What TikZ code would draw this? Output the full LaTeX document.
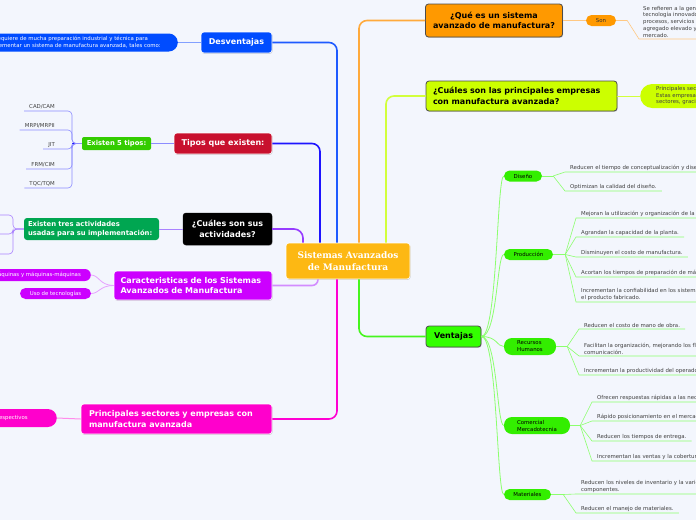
\documentclass[tikz,border=0pt]{standalone}
\usepackage{fontspec}
\setmainfont{DejaVu Sans}
\newfontfamily\censerif{DejaVu Serif}
\usetikzlibrary{shapes, positioning, shadows}

\definecolor{bgcol}{RGB}{243,246,253}
\definecolor{cencol}{RGB}{253,184,19}
\definecolor{quecol}{RGB}{255,153,0}
\definecolor{limecol}{RGB}{204,255,0}
\definecolor{vencol}{RGB}{51,255,0}
\definecolor{pillgreen}{RGB}{51,238,0}
\definecolor{descol}{RGB}{0,76,255}
\definecolor{tipcol}{RGB}{200,16,46}
\definecolor{tipgreen}{RGB}{51,204,0}
\definecolor{actgreen}{RGB}{0,166,81}
\definecolor{carcol}{RGB}{204,0,255}
\definecolor{pricol}{RGB}{255,0,204}
\definecolor{leaftext}{RGB}{64,64,64}
\definecolor{qline}{RGB}{255,170,60}
\definecolor{sonline}{RGB}{255,200,130}
\definecolor{cline}{RGB}{210,255,60}
\definecolor{vline}{RGB}{70,245,30}
\definecolor{vtwig}{RGB}{140,255,110}
\definecolor{dline}{RGB}{30,90,255}
\definecolor{destwig}{RGB}{130,160,255}
\definecolor{tline}{RGB}{30,20,255}
\definecolor{tiptwig}{RGB}{140,140,255}
\definecolor{aline}{RGB}{150,60,255}
\definecolor{acttwig}{RGB}{170,130,255}
\definecolor{kline}{RGB}{210,140,255}
\definecolor{cartwig}{RGB}{230,160,255}
\definecolor{pline}{RGB}{255,0,210}
\definecolor{pritwig}{RGB}{255,140,235}

\tikzstyle{mainbox} = [rectangle, rounded corners=3pt, inner sep=0pt, font=\fontsize{8}{10.5}\selectfont\bfseries, drop shadow={shadow xshift=.6pt, shadow yshift=-.9pt, opacity=.35}]
\tikzstyle{darkedge} = [draw=black!70, line width=.8pt]
\tikzstyle{lightedge} = [draw=white, line width=.6pt]
\tikzstyle{pill} = [rectangle, rounded corners=5.5pt, inner sep=0pt, minimum height=11pt, font=\fontsize{5.4}{7}\selectfont]
\tikzstyle{leaf} = [anchor=south west, inner xsep=5pt, inner ysep=1.5pt, align=left, text=leaftext, font=\fontsize{5.4}{7}\selectfont]
\tikzstyle{trunk} = [line width=1.6pt, rounded corners=8pt]
\tikzstyle{twig} = [line width=.6pt]

\begin{document}
\begin{tikzpicture}[x=1pt, y=-1pt]
  \useasboundingbox (0,0) rectangle (696,520);
  \fill[bgcol] (0,0) rectangle (696,520);
  \clip (0,0) rectangle (696,520);

  \node[mainbox, lightedge, fill=cencol, text=white, minimum width=124pt, minimum height=36pt, align=center, font=\censerif\fontsize{9}{12}\selectfont\bfseries] (cen) at (348,261) {Sistemas Avanzados\\de Manufactura};

  % derecha
  \node[mainbox, darkedge, fill=quecol, minimum width=137pt, minimum height=33pt, align=center] (que) at (494,20.5) {¿Qué es un sistema\\avanzado de manufactura?};
  \node[pill, fill=quecol, text=black!80, minimum width=30pt] (son) at (601,20.5) {Son};
  \node[leaf, inner xsep=4pt, font=\fontsize{5.4}{6.8}\selectfont] (sdef) at (639,39) {Se refieren a la generación de\\tecnología innovadora en productos,\\procesos, servicios con valor\\agregado elevado y competitivo en el\\mercado.};

  \node[mainbox, darkedge, fill=limecol, minimum width=191pt, minimum height=30pt, text width=177pt, align=left] (cua) at (521.5,96) {¿Cuáles son las principales empresas\\con manufactura avanzada?};
  \node[pill, fill=limecol, anchor=west, rounded corners=12pt, minimum height=24pt, inner xsep=16pt, text width=100pt, align=left, text=black!75, font=\fontsize{5.4}{6.5}\selectfont] (emp) at (640,96) {Principales sectores y empresas\\Estas empresas lideran sus\\sectores, gracias a la manufactura};

  \node[mainbox, darkedge, fill=vencol, minimum width=55pt, minimum height=21pt] (ven) at (453.5,336.5) {Ventajas};
  \node[pill, fill=pillgreen, minimum width=38pt] (dis) at (523,176) {Diseño};
  \node[pill, fill=pillgreen, minimum width=49pt] (pro) at (528.5,254.5) {Producción};
  \node[pill, fill=pillgreen, minimum width=52pt, minimum height=17pt, rounded corners=8pt, align=left] (rec) at (530,346.5) {Recursos\\Humanos};
  \node[pill, fill=pillgreen, minimum width=66pt, minimum height=17pt, rounded corners=8pt, align=left] (com) at (537,425.5) {Comercial\\Mercadotecnia};
  \node[pill, fill=pillgreen, minimum width=47pt] (mat) at (527.5,494.5) {Materiales};

  \node[leaf] (d1) at (565,172) {Reducen el tiempo de conceptualización y diseño.};
  \node[leaf] (d2) at (565,191) {Optimizan la calidad del diseño.};
  \node[leaf] (p1) at (576,218) {Mejoran la utilización y organización de la planta.};
  \node[leaf] (p2) at (576,237) {Agrandan la capacidad de la planta.};
  \node[leaf] (p3) at (576,257) {Disminuyen el costo de manufactura.};
  \node[leaf] (p4) at (576,277) {Acortan los tiempos de preparación de máquinas.};
  \node[leaf] (p5) at (576,302) {Incrementan la confiabilidad en los sistemas y en\\el producto fabricado.};
  \node[leaf] (r1) at (579,329) {Reducen el costo de mano de obra.};
  \node[leaf] (r2) at (579,356) {Facilitan la organización, mejorando los flujos de\\comunicación.};
  \node[leaf] (r3) at (579,375) {Incrementan la productividad del operador.};
  \node[leaf] (c1) at (592,402) {Ofrecen respuestas rápidas a las necesidades.};
  \node[leaf] (c2) at (592,421) {Rápido posicionamiento en el mercado.};
  \node[leaf] (c3) at (592,441) {Reducen los tiempos de entrega.};
  \node[leaf] (c4) at (592,461) {Incrementan las ventas y la cobertura.};
  \node[leaf] (m1) at (576,494) {Reducen los niveles de inventario y la variedad de\\componentes.};
  \node[leaf] (m2) at (576,513) {Reducen el manejo de materiales.};

  % izquierda
  \node[mainbox, lightedge, fill=descol, text=white, minimum width=71pt, minimum height=21pt] (des) at (236.5,42.5) {Desventajas};
  \node[pill, fill=descol, text=white, anchor=east, rounded corners=9pt, minimum height=18pt, inner xsep=17pt, align=left] (des1) at (178,42.5) {Se requiere de mucha preparación industrial y técnica para\\implementar un sistema de manufactura avanzada, tales como:};

  \node[mainbox, lightedge, fill=tipcol, text=white, minimum width=98pt, minimum height=21pt] (tip) at (223,143.5) {Tipos que existen:};
  \node[rectangle, rounded corners=2pt, fill=tipgreen, text=white, font=\fontsize{6.8}{8}\selectfont\bfseries, minimum width=69pt, minimum height=13pt, inner sep=0pt] (tip5) at (116.5,143.5) {Existen 5 tipos:};
  \node[leaf, anchor=south east] (t1) at (60,111) {CAD/CAM};
  \node[leaf, anchor=south east] (t2) at (60,130) {MRPI/MRPII};
  \node[leaf, anchor=south east] (t3) at (60,149) {JIT};
  \node[leaf, anchor=south east] (t4) at (60,169) {FRM/CIM};
  \node[leaf, anchor=south east] (t5) at (60,188) {TQC/TQM};

  \node[mainbox, draw=black, fill=black, text=white, minimum width=89pt, minimum height=32pt, align=center] (act) at (227.5,229) {¿Cuáles son sus\\actividades?};
  \node[rectangle, rounded corners=3pt, fill=actgreen, text=white, font=\fontsize{6.8}{8.5}\selectfont\bfseries, minimum width=135pt, minimum height=22pt, text width=127pt, align=left, inner sep=0pt] (act3) at (91.5,229) {Existen tres actividades\\usadas para su implementación:};
  \coordinate (a1) at (-5,215);
  \coordinate (a2) at (-5,234);
  \coordinate (a3) at (-5,254);

  \node[mainbox, lightedge, fill=carcol, text=white, minimum width=158pt, minimum height=29pt, text width=145pt, align=left] (car) at (193,285.5) {Caracteristicas de los Sistemas\\Avanzados de Manufactura};
  \node[pill, fill=carcol, text=white, anchor=east, rounded corners=6pt, minimum height=12pt, inner xsep=10pt] (car1) at (91,275) {Interacción hombres-máquinas y máquinas-máquinas};
  \node[pill, fill=carcol, text=white, minimum width=71pt] (car2) at (55.5,293.5) {Uso de tecnologías};

  \node[mainbox, lightedge, fill=pricol, text=white, minimum width=191pt, minimum height=30pt, text width=175pt, align=left] (pri) at (176.5,419) {Principales sectores y empresas con\\manufactura avanzada};
  \node[pill, fill=pricol, text=white, anchor=east, rounded corners=9pt, minimum height=18pt, inner xsep=29pt] (pri1) at (57,418) {sus respectivos};

  % ramas principales
  \draw[trunk, qline] ([xshift=11pt]cen.north) |- (que.west);
  \draw[trunk, cline] ([xshift=38pt]cen.north) |- (cua.west);
  \draw[trunk, vline] ([xshift=11pt]cen.south) |- (ven.west);
  \draw[trunk, dline] ([xshift=-11pt]cen.north) |- (des.east);
  \draw[trunk, tline] ([xshift=-28pt]cen.north) |- (tip.east);
  \draw[trunk, aline, rounded corners=9pt] (act.east) -| ([xshift=-45pt]cen.north);
  \draw[trunk, kline, rounded corners=6pt] (car.east) -| ([xshift=-30pt]cen.south);
  \draw[trunk, pline] ([xshift=-11pt]cen.south) |- (pri.east);

  % ramas secundarias
  \draw[sonline, line width=1pt] (que.east) -- (son.west);
  \draw[twig, sonline] (son.east) -- ++(11,0) -- (sdef.south west) -- (sdef.south east);
  \draw[cline, line width=1pt] (cua.east) -- (emp.west);

  \foreach \p in {dis,pro,rec,com,mat}
    \draw[vtwig, line width=.8pt] (ven.east) .. controls +(16,0) and +(-7,0) .. (\p.west);
  \draw[twig, vtwig] (dis.east) -- ++(11,0) coordinate (dis-b);
  \draw[twig, vtwig] (pro.east) -- ++(12,0) coordinate (pro-b);
  \draw[twig, vtwig] (rec.east) -- ++(11,0) coordinate (rec-b);
  \draw[twig, vtwig] (com.east) -- ++(10,0) coordinate (com-b);
  \draw[twig, vtwig] (mat.east) -- ++(12,0) coordinate (mat-b);
  \foreach \lf in {d1,d2}
    \draw[twig, vtwig] (dis-b) -- (\lf.south west) -- (\lf.south east);
  \foreach \lf in {p1,p2,p3,p4,p5}
    \draw[twig, vtwig] (pro-b) -- (\lf.south west) -- (\lf.south east);
  \foreach \lf in {r1,r2,r3}
    \draw[twig, vtwig] (rec-b) -- (\lf.south west) -- (\lf.south east);
  \foreach \lf in {c1,c2,c3,c4}
    \draw[twig, vtwig] (com-b) -- (\lf.south west) -- (\lf.south east);
  \foreach \lf in {m1,m2}
    \draw[twig, vtwig] (mat-b) -- (\lf.south west) -- (\lf.south east);

  \draw[destwig, line width=1pt] (des.west) -- (des1.east);

  \draw[tiptwig, line width=1.2pt] (tip.west) -- (tip5.east);
  \draw[tline, line width=1.4pt] (tip5.west) -- ++(-10,0);
  \foreach \lf/\yy in {t1/111,t2/130,t3/149,t4/169,t5/188}
    \draw[twig, tiptwig, rounded corners=4pt] (tip5.west) -| (72,\yy) -- (\lf.south west);

  \draw[acttwig, line width=1pt] (act.west) -- (act3.east);
  \foreach \lf/\yy in {a1/215,a2/234,a3/254}
    \draw[twig, acttwig, rounded corners=4pt] (act3.west) -| (13,\yy) -- (\lf);

  \draw[twig, cartwig, line width=.8pt] (car.west) .. controls +(-14,0) and +(8,0) .. (car1.east);
  \draw[twig, cartwig, line width=.8pt] (car.west) .. controls +(-14,0) and +(8,0) .. (car2.east);

  \draw[pritwig, line width=1pt] (pri.west) -- (pri1.east);
\end{tikzpicture}
\end{document}
